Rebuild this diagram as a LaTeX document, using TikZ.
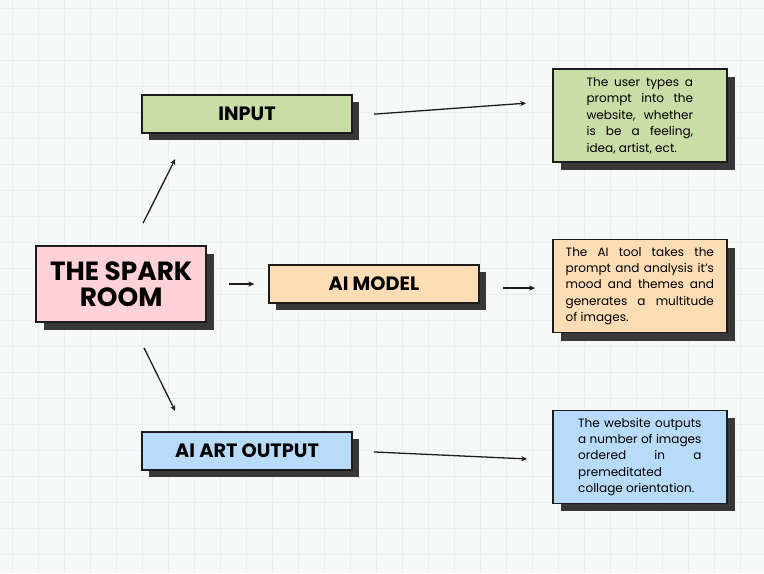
\documentclass[tikz,border=0pt]{standalone}
\usepackage{fontspec}
\setmainfont{Poppins}
\usetikzlibrary{arrows.meta,shadows,calc}
\definecolor{cInk}{HTML}{1c1c1c}
\definecolor{cShade}{HTML}{383838}
\definecolor{cPaper}{HTML}{F7F9F9}
\definecolor{cGrid}{HTML}{EAF0F1}
\definecolor{cPink}{HTML}{FFD2D7}
\definecolor{cGreen}{HTML}{C9DEA6}
\definecolor{cPeach}{HTML}{FEDDB4}
\definecolor{cBlue}{HTML}{B9DBFA}

\tikzset{
  card/.style={draw=cInk,line width=1.5pt,inner sep=0pt,
    drop shadow={shadow xshift=#1,shadow yshift=-#1,fill=cShade,opacity=1}},
  card/.default=0.2cm,
  title/.style={card,minimum width=6.3cm,minimum height=1.14cm,
    font=\fontsize{16.5}{19}\selectfont\bfseries},
  note/.style={card=0.24cm,minimum width=5.22cm,minimum height=2.79cm,
    align=justify,font=\fontsize{10.3}{14}\selectfont},
  link/.style={-{Stealth[length=5pt,width=4.5pt]},line width=1.1pt,draw=cInk}
}

\begin{document}
\begin{tikzpicture}[x=0.03cm,y=-0.03cm]
  % paper
  \fill[cPaper] (0,0) rectangle (764,573);
  \foreach \g in {12,38,...,764} \draw[cGrid,line width=.4pt] (\g,0) -- (\g,573);
  \foreach \g in {8,34,...,573} \draw[cGrid,line width=.4pt] (0,\g) -- (764,\g);

  \node[card=0.24cm,fill=cPink,minimum width=5.1cm,minimum height=2.28cm,align=center,
    font=\fontsize{22.5}{22.5}\selectfont\bfseries] (spark) at (121,284) {THE SPARK\\ROOM};

  \node[title,fill=cGreen] (input)  at (247,114) {INPUT};
  \node[title,fill=cPeach] (model)  at (374,284) {AI MODEL};
  \node[title,fill=cBlue]  (output) at (247,451) {AI ART OUTPUT};

  \node[note,fill=cGreen,text width=3.2cm] (noteA) at (640,115.5)
    {The user types a\linebreak prompt into the\linebreak website, whether\linebreak
     is be a feeling,\linebreak idea, artist, ect.};
  \node[note,fill=cPeach,text width=4.45cm] (noteB) at (640,286)
    {The AI tool takes the\linebreak prompt and analysis it's\linebreak mood and themes and\linebreak
     generates a multitude\linebreak of images.};
  \node[note,fill=cBlue,text width=3.7cm] (noteC) at (640,457)
    {The website outputs\linebreak a number of images\linebreak ordered in a\linebreak
     premeditated\\ collage orientation.};

  \draw[link] ([shift={(-64,-22)}]spark.north east) -- ([shift={(34,25)}]input.south west);
  \draw[link] ([shift={(22,0)}]spark.east) -- ([shift={(-14,0)}]model.west);
  \draw[link] ([shift={(-63,25)}]spark.south east) -- ([shift={(34,-20)}]output.north west);
  \draw[link] ([shift={(21,0)}]input.east) -- ([shift={(-26,-12.5)}]noteA.west);
  \draw[link] ([shift={(23,4)}]model.east) -- ([shift={(-17,2)}]noteB.west);
  \draw[link] ([shift={(21,1)}]output.east) -- ([shift={(-25,2)}]noteC.west);
\end{tikzpicture}
\end{document}
